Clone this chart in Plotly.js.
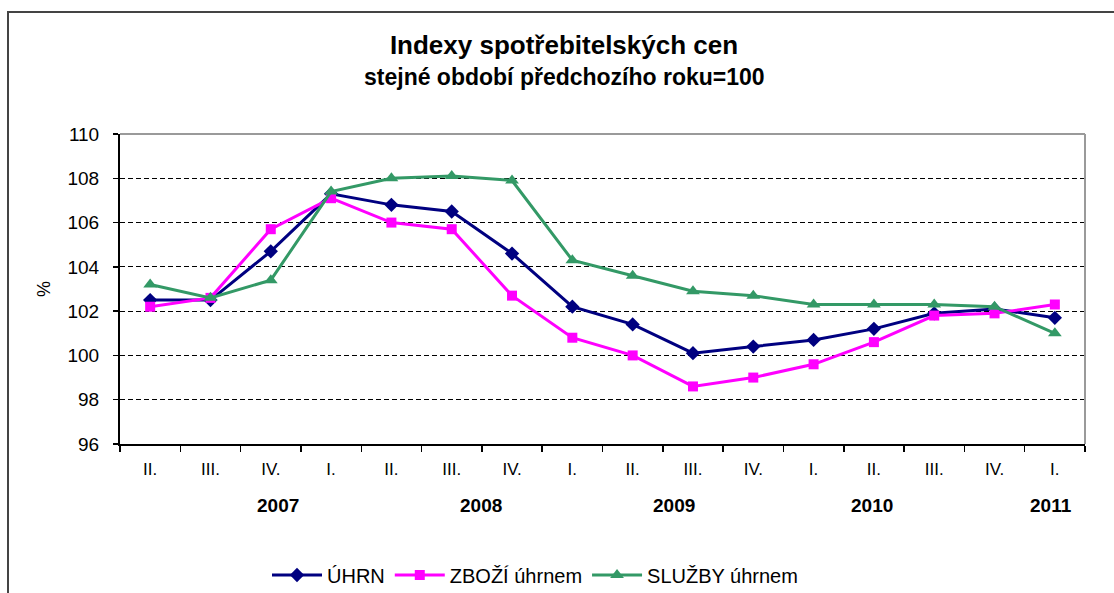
<!DOCTYPE html>
<html>
<head>
<meta charset="utf-8">
<script src="https://cdn.plot.ly/plotly-3.0.1.min.js"></script>
<style>
html,body{margin:0;padding:0;background:#fff;}
#chart{width:1114px;height:593px;}
</style>
</head>
<body>
<div id="chart"></div>
<script>
// ---- data ----
const periods = ["2007 II.","2007 III.","2007 IV.","2008 I.","2008 II.","2008 III.","2008 IV.",
                 "2009 I.","2009 II.","2009 III.","2009 IV.","2010 I.","2010 II.","2010 III.","2010 IV.","2011 I."];
const quarterLabels = ["II.","III.","IV.","I.","II.","III.","IV.","I.","II.","III.","IV.","I.","II.","III.","IV.","I."];
const yearLabels = ["2007","2008","2009","2010","2011"];
const uhrn   = [102.5,102.5,104.7,107.3,106.8,106.5,104.6,102.2,101.4,100.1,100.4,100.7,101.2,101.9,102.1,101.7];
const zbozi  = [102.2,102.6,105.7,107.1,106.0,105.7,102.7,100.8,100.0,98.6,99.0,99.6,100.6,101.8,101.9,102.3];
const sluzby = [103.2,102.6,103.4,107.4,108.0,108.1,107.9,104.3,103.6,102.9,102.7,102.3,102.3,102.3,102.2,101.0];
const seriesNames = ["ÚHRN","ZBOŽÍ úhrnem","SLUŽBY úhrnem"];

// ---- layout helpers ----
const yearPos = [2.12, 5.49, 8.69, 11.97, 14.93];
const FONT = "Arial, 'Liberation Sans', sans-serif";

const traces = [
  {x: periods, y: uhrn, name: seriesNames[0], type: "scatter", mode: "lines+markers",
   line: {color: "#000080", width: 3}, marker: {symbol: "diamond", size: 11, color: "#000080"}},
  {x: periods, y: zbozi, name: seriesNames[1], type: "scatter", mode: "lines+markers",
   line: {color: "#FF00FF", width: 3}, marker: {symbol: "square", size: 10, color: "#FF00FF"}},
  {x: periods, y: sluzby, name: seriesNames[2], type: "scatter", mode: "lines+markers",
   line: {color: "#339966", width: 3}, marker: {symbol: "triangle-up", size: 12, color: "#339966"}}
];

const annotations = yearLabels.map((t, i) => ({
  text: t, x: yearPos[i], xref: "x", y: -0.197, yref: "paper",
  xanchor: "center", yanchor: "middle", showarrow: false,
  font: {family: FONT, size: 19, color: "#000", weight: "bold"}
}));
annotations.push({
  text: "stejné období předchozího roku=100", xref: "paper", yref: "paper",
  x: (564 - 120) / 965, y: 1 + (134 - 77) / 310, xanchor: "center", yanchor: "middle",
  showarrow: false, font: {family: FONT, size: 23, color: "#000", weight: "bold"}
});

const layout = {
  width: 1114, height: 593,
  margin: {l: 120, r: 29, t: 134, b: 149, pad: 0, autoexpand: false},
  paper_bgcolor: "#fff", plot_bgcolor: "#fff",
  title: {text: "Indexy spotřebitelských cen", xref: "paper", x: (564 - 120) / 965, xanchor: "center",
          yref: "container", y: 1 - 45 / 593, yanchor: "middle",
          font: {family: FONT, size: 26, color: "#000", weight: "bold"}},
  xaxis: {
    type: "category", range: [-0.5, 15.5], fixedrange: true, automargin: false,
    tickmode: "array", tickvals: periods, ticktext: quarterLabels,
    tickson: "boundaries", ticks: "outside", ticklen: 6, tickwidth: 1.5, tickcolor: "#000",
    showline: true, linecolor: "#000", linewidth: 2, showgrid: false, zeroline: false,
    ticklabelstandoff: 9,
    tickfont: {family: FONT, size: 17, color: "#000"}
  },
  yaxis: {
    range: [96, 110], dtick: 2, tick0: 96, fixedrange: true, automargin: false,
    ticks: "outside", ticklen: 5, tickwidth: 1.5, tickcolor: "#000",
    showline: true, linecolor: "#000", linewidth: 2,
    showgrid: true, gridcolor: "#000", gridwidth: 1, griddash: "5px,3px",
    zeroline: false, ticklabelstandoff: 10,
    tickfont: {family: FONT, size: 19, color: "#000"},
    title: {text: "%", standoff: 12, font: {family: FONT, size: 18, color: "#000"}}
  },
  showlegend: true,
  legend: {orientation: "h", x: (535 - 120) / 965, xanchor: "center", y: (444 - 575) / 310, yanchor: "middle",
           itemwidth: 50, tracegroupgap: 0,
           font: {family: FONT, size: 20, color: "#000"}, bgcolor: "rgba(0,0,0,0)", itemclick: false},
  annotations: annotations,
  shapes: [
    {type: "line", xref: "paper", yref: "paper", x0: 0, x1: 1, y0: 1, y1: 1, line: {color: "#9a9a9a", width: 2}, layer: "above"},
    {type: "line", xref: "paper", yref: "paper", x0: 1, x1: 1, y0: 0, y1: 1, line: {color: "#9a9a9a", width: 2}, layer: "above"},
    {type: "rect", xref: "paper", yref: "paper", x0: (8 - 120) / 965, x1: (1130 - 120) / 965,
     y0: 1 + (134 - 12) / 310, y1: (444 - 620) / 310, line: {color: "#444", width: 2}, layer: "below"}
  ]
};

Plotly.newPlot("chart", traces, layout, {displayModeBar: false, staticPlot: true});
</script>
</body>
</html>
